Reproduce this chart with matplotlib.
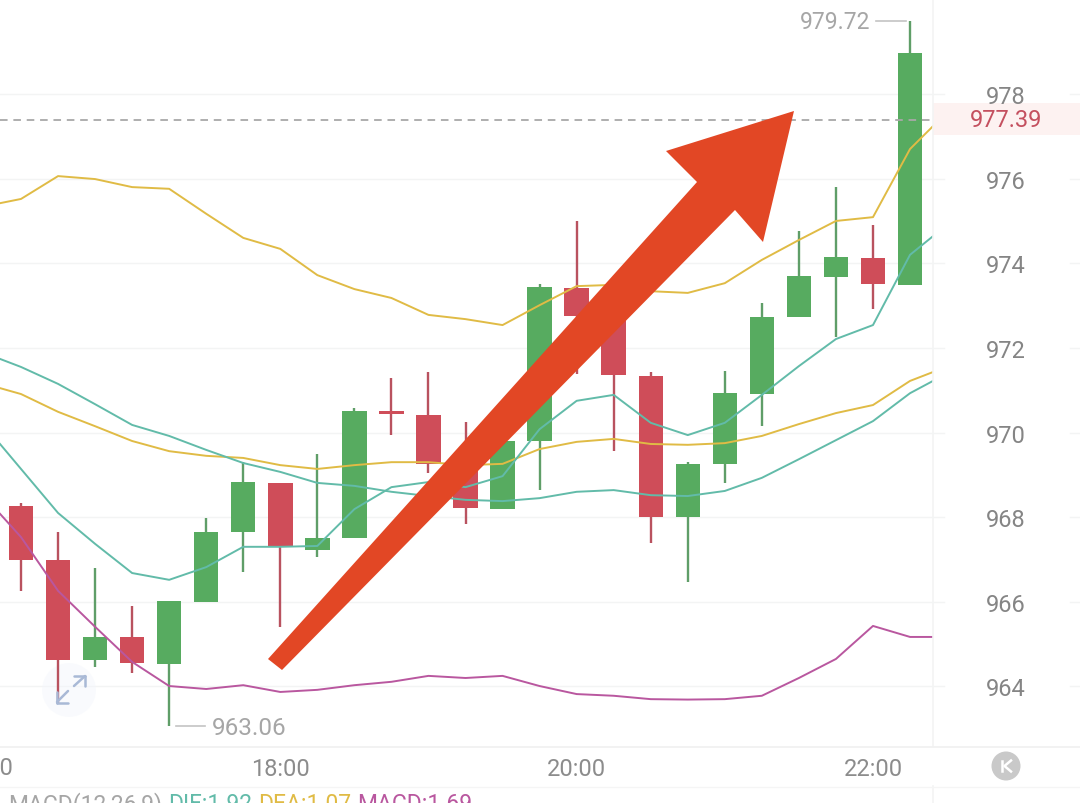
import matplotlib
matplotlib.use("Agg")
import matplotlib.pyplot as plt
from matplotlib.patches import Polygon, Circle, Rectangle
from matplotlib.transforms import Affine2D, blended_transform_factory

plt.rcParams['font.family'] = ['Roboto', 'DejaVu Sans']

# candle data, one per 15 minutes
opens  = [968.26, 966.99, 964.62, 965.17, 964.53, 966.00, 967.64, 968.81, 967.23, 967.51, 970.51, 970.41, 969.26,
          968.20, 969.79, 973.42, 972.76, 971.34, 968.01, 969.26, 970.91, 972.73, 973.68, 974.13, 973.49]
closes = [966.99, 964.63, 965.18, 964.55, 966.01, 967.64, 968.82, 967.29, 967.51, 970.52, 970.43, 969.26, 968.21,
          969.80, 973.44, 972.76, 971.35, 968.01, 969.26, 970.93, 972.73, 973.70, 974.16, 973.51, 978.96]
highs  = [968.34, 967.65, 966.80, 965.91, 966.02, 967.97, 969.30, 968.81, 969.49, 970.57, 971.30, 971.44, 970.25,
          969.80, 973.51, 975.00, 972.76, 971.44, 969.31, 971.45, 973.06, 974.76, 975.80, 974.90, 979.72]
lows   = [966.26, 963.59, 964.47, 964.32, 963.06, 966.00, 966.70, 965.41, 967.07, 967.51, 969.95, 969.05, 967.83,
          968.20, 968.65, 971.39, 969.56, 967.40, 966.47, 968.81, 970.15, 972.73, 972.26, 972.92, 973.49]

# overlay lines: left edge, each candle, right edge
line_x = [-0.567] + list(range(25)) + [24.62]
boll_upper = [975.42, 975.52, 976.06, 975.99, 975.80, 975.76, 975.17, 974.60, 974.34, 973.72, 973.39, 973.18, 972.78,
              972.68, 972.54, 973.01, 973.46, 973.49, 973.34, 973.30, 973.53, 974.08, 974.55, 975.00, 975.09, 976.70, 977.24]
boll_mid   = [971.05, 970.91, 970.49, 970.15, 969.80, 969.56, 969.45, 969.40, 969.23, 969.14, 969.23, 969.30, 969.30,
              969.23, 969.26, 969.61, 969.78, 969.85, 969.73, 969.71, 969.75, 969.92, 970.20, 970.46, 970.65, 971.22, 971.43]
teal_upper = [971.74, 971.55, 971.15, 970.67, 970.18, 969.92, 969.59, 969.28, 969.07, 968.81, 968.74, 968.60, 968.50,
              968.41, 968.38, 968.45, 968.60, 968.64, 968.52, 968.50, 968.62, 968.93, 969.37, 969.82, 970.27, 970.93, 971.22]
teal_lower = [969.73, 969.14, 968.10, 967.37, 966.68, 966.52, 966.82, 967.30, 967.30, 967.32, 968.19, 968.71, 968.83,
              968.71, 968.97, 970.08, 970.75, 970.89, 970.23, 969.94, 970.23, 970.89, 971.57, 972.21, 972.54, 974.20, 974.64]
purple     = [968.08, 967.53, 966.26, 965.41, 964.58, 964.01, 963.94, 964.03, 963.87, 963.92, 964.03, 964.11, 964.25,
              964.20, 964.25, 964.01, 963.82, 963.78, 963.70, 963.69, 963.70, 963.78, 964.20, 964.65, 965.43, 965.17, 965.17]

y_ticks = [964, 966, 968, 970, 972, 974, 976, 978]
x_ticks = [7, 15, 23]
x_labels = ['18:00', '20:00', '22:00']
last_price = 977.39
high_price = 979.72
low_price = 963.06

GREEN, RED = '#57ab60', '#cf4d59'
GREEN_W, RED_W = '#5f9e68', '#b9525f'
GRID = '#f3f4f4'
W, H = 1080, 804

fig = plt.figure(figsize=(W / 100, H / 100), dpi=100, facecolor='white')
ax = fig.add_axes([0, (H - 747) / H, 933 / W, 747 / H])
ax.set_xlim(-0.567, 24.62)
ax.set_ylim(962.593, 980.245)
ax.set_facecolor('white')
for s in ax.spines.values():
    s.set_visible(False)

# pixel coordinates (y down) for the overlay decorations
px = Affine2D().scale(1, -1).translate(0, H)

# ticks and grid
ax.set_yticks(y_ticks)
ax.set_yticklabels([str(v) for v in y_ticks])
ax.yaxis.tick_right()
ax.tick_params(axis='y', length=0, pad=52.5, labelsize=17, labelcolor='#858585')
for lab in ax.get_yticklabels():
    lab.set_ha('center')
    lab.set_zorder(10)
ax.set_xticks(x_ticks)
ax.set_xticklabels(x_labels)
ax.tick_params(axis='x', length=0, pad=8, labelsize=17, labelcolor='#8c8c8c')
ax.grid(axis='y', color=GRID, lw=1, zorder=0)
ax.set_axisbelow(True)

trans_y = blended_transform_factory(fig.transFigure, ax.transData)
for v in y_ticks:
    ax.plot([933 / W, 944 / W], [v, v], transform=trans_y, color=GRID, lw=1, clip_on=False)
    ax.plot([1070 / W, 1.0], [v, v], transform=trans_y, color=GRID, lw=1, clip_on=False)

# cut-off 16:00 label at the left edge
ax.text(-1, -0.0285, '16:00', transform=blended_transform_factory(ax.transData, ax.transAxes),
        ha='center', va='center', fontsize=17, color='#8c8c8c', clip_on=False)

# frame lines
fig.add_artist(plt.Line2D([933, 933], [0, 747], transform=px, color=GRID, lw=1.2))
fig.add_artist(plt.Line2D([933, 933], [787, 804], transform=px, color=GRID, lw=1.2))
fig.add_artist(plt.Line2D([0, 1080], [747.5, 747.5], transform=px, color='#f0f0f0', lw=1.2))
fig.add_artist(plt.Line2D([0, 1080], [787.5, 787.5], transform=px, color='#f5f5f5', lw=1))

# last price band, behind the axes and its labels
fig.add_artist(Rectangle((933, 104), 147, 32, transform=px, facecolor='#fdf2f1', edgecolor='none', zorder=-1))
ax.axhline(last_price, color='#a8a8a8', lw=1.3, dashes=(4.2, 3.2), zorder=5)
ax.text(1006, 120.5, f'{last_price:.2f}', transform=px, ha='center', va='center', fontsize=17,
        color='#c4505f', clip_on=False, zorder=6)

# candles
for i, (o, c, h, l) in enumerate(zip(opens, closes, highs, lows)):
    up = c >= o
    ax.vlines(i, l, h, color=GREEN_W if up else RED_W, lw=1.7, zorder=2)
    ax.bar(i, abs(c - o), bottom=min(o, c), width=0.66, color=GREEN if up else RED, zorder=3, linewidth=0)

# overlay lines
ax.plot(line_x, boll_upper, color='#e0bb45', lw=1.4, zorder=4)
ax.plot(line_x, boll_mid, color='#e0bb45', lw=1.4, zorder=4)
ax.plot(line_x, teal_upper, color='#62bba9', lw=1.4, zorder=4)
ax.plot(line_x, teal_lower, color='#62bba9', lw=1.4, zorder=4)
ax.plot(line_x, purple, color='#b9579f', lw=1.4, zorder=4)

# high / low markers
ax.text(870, 23, f'{high_price:.2f}', transform=px, ha='right', va='center', fontsize=16.5, color='#a6a6a6', zorder=6)
ax.plot([876, 906], [22, 22], transform=px, color='#c4c4c4', lw=1.2, zorder=6)
ax.text(212, 729, f'{low_price:.2f}', transform=px, ha='left', va='center', fontsize=17.5, color='#a6a6a6', zorder=6)
ax.plot([176, 205], [727, 727], transform=px, color='#c4c4c4', lw=1.2, zorder=6)

# big arrow
arrow_px = [(268, 660), (697, 183), (666, 152), (794, 112), (763, 243), (735, 211), (282, 671)]
ax.add_patch(Polygon(arrow_px, closed=True, transform=px, facecolor='#e24725', edgecolor='none', zorder=8, clip_on=False))

# expand icon
ax.add_patch(Circle((69, 691), 27, transform=px, facecolor='#f3f6fc', edgecolor='none', alpha=0.45, zorder=1))
for xs, ys in [([57, 68], [703, 692]), ([57, 57], [693, 704]), ([57, 68], [704, 704]),
               ([74, 85], [687, 677]), ([74, 85], [677, 677]), ([85, 85], [677, 687])]:
    ax.plot(xs, ys, transform=px, color='#a9b9d6', lw=1.8, zorder=7, solid_capstyle='round')

# jump-to-latest button
fig.add_artist(Circle((1006, 767), 14.5, transform=px, facecolor='#c9c9c9', edgecolor='none'))
for xs, ys in [([1001.5, 1001.5], [762, 772]), ([1011, 1004.5, 1011], [761.5, 767, 772.5])]:
    fig.add_artist(plt.Line2D(xs, ys, transform=px, color='white', lw=1.8))

# indicator header, cut by the bottom edge
for x, t, col in [(8, 'MACD(12,26,9)', '#a6a6a6'), (168, 'DIF:1.92', '#62bba9'),
                  (258, 'DEA:1.07', '#e0bb45'), (357, 'MACD:1.69', '#b9579f')]:
    fig.text(x / W, (H - 811) / H, t, fontsize=16.5, color=col, ha='left', va='baseline')

fig.savefig('out.png', dpi=100, facecolor='white')
